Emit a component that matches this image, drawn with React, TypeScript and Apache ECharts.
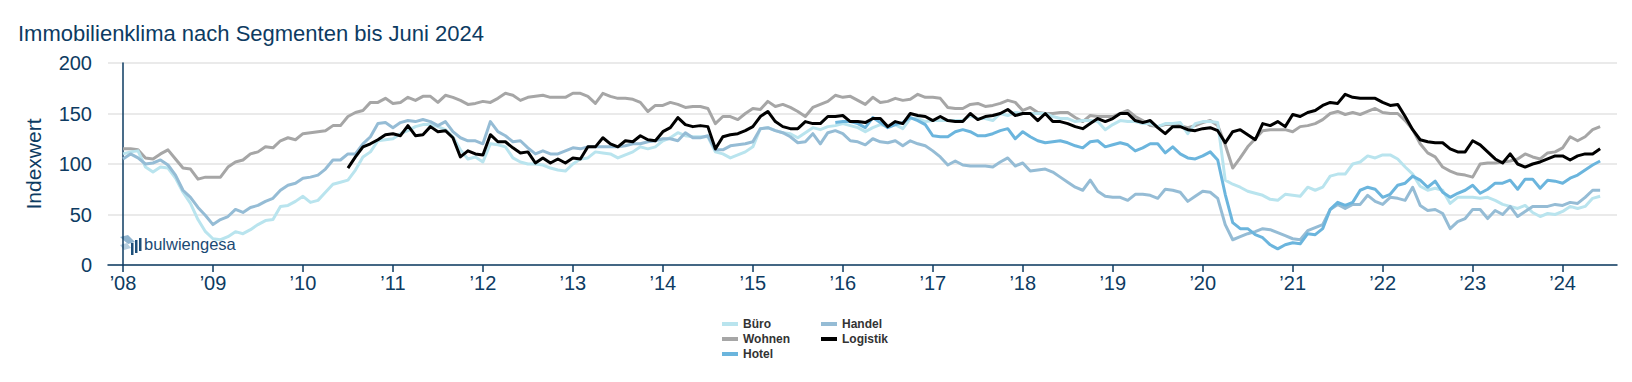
import React, { useEffect, useRef } from "react";
import * as echarts from "echarts";

// Month index 0 = Jan 2008 ... 197 = Jun 2024
const yearLabels = ["08", "09", "10", "11", "12", "13", "14", "15", "16", "17", "18", "19", "20", "21", "22", "23", "24"];
const yearTicks = yearLabels.map((_, i) => i * 12);

const seriesNames = ["Büro", "Wohnen", "Hotel", "Handel", "Logistik"];

const bueroValues = [
  110, 112, 113, 97, 92, 97, 96, 86, 72, 61, 45, 33,
  26, 25, 28, 33, 31, 35, 40, 44, 45, 58, 59, 63,
  68, 62, 64, 72, 80, 82, 84, 94, 107, 112, 123, 124,
  125, 130, 133, 137, 139, 139, 137, 134, 127, 114, 105, 107,
  102, 120, 119, 117, 106, 102, 100, 100, 99, 96, 94, 93,
  100, 105, 106, 112, 111, 110, 106, 109, 112, 117, 115, 117,
  123, 126, 131, 128, 127, 127, 127, 112, 110, 106, 109, 112,
  117, 135, 136, 133, 131, 130, 126, 131, 136, 134, 137, 138,
  140, 138, 136, 132, 136, 139, 137, 139, 135, 145, 145, 142,
  143, 143, 143, 143, 143, 148, 145, 145, 143, 150, 148, 151,
  150, 150, 150, 150, 147, 145, 145, 142, 143, 143, 142, 134,
  139, 143, 142, 142, 140, 140, 137, 140, 140, 141, 130, 140,
  142, 142, 141, 84, 80, 77, 73, 71, 69, 65, 64, 70,
  69, 68, 77, 74, 77, 88, 90, 90, 100, 102, 108, 106,
  109, 109, 105, 97, 90, 78, 74, 76, 74, 61, 67, 67,
  67, 66, 67, 64, 60, 58, 56, 59, 52, 48, 51, 50,
  53, 58, 56, 58, 66, 68,
];

const wohnenValues = [
  115, 115, 114, 106, 105, 110, 114, 105, 96, 95, 85, 87,
  87, 87, 97, 102, 104, 110, 112, 117, 116, 123, 126, 124,
  130, 131, 132, 133, 138, 138, 147, 151, 153, 161, 161, 165,
  160, 161, 166, 163, 167, 167, 161, 168, 166, 163, 159, 160,
  162, 161, 165, 170, 168, 163, 166, 167, 168, 166, 166, 166,
  170, 170, 167, 160, 170, 167, 165, 165, 164, 161, 152, 158,
  158, 161, 159, 156, 157, 157, 155, 140, 147, 147, 144, 150,
  155, 154, 162, 157, 159, 156, 152, 147, 156, 159, 162, 168,
  166, 167, 163, 159, 166, 161, 162, 165, 163, 164, 169, 166,
  166, 165, 156, 155, 155, 159, 160, 157, 158, 160, 163, 161,
  153, 156, 151, 150, 150, 151, 151, 146, 142, 148, 147, 147,
  147, 150, 153, 147, 143, 138, 137, 139, 139, 138, 136, 138,
  141, 143, 138, 119, 96, 106, 117, 125, 133, 134, 134, 134,
  132, 137, 138, 140, 144, 150, 152, 149, 151, 149, 152, 155,
  151, 150, 150, 143, 134, 120, 111, 107, 97, 93, 90, 89,
  87, 100, 101, 101, 102, 103, 105, 110, 107, 105, 111, 112,
  116, 127, 123, 127, 134, 137,
];

const hotelStart = 95;
const hotelValues = [
  141,
  142, 142, 140, 136, 146, 141, 136, 139, 141, 146, 143, 139,
  128, 127, 127, 132, 134, 132, 128, 128, 130, 133, 135, 125,
  132, 127, 123, 121, 122, 123, 121, 118, 116, 122, 123, 117,
  119, 121, 119, 113, 116, 120, 120, 111, 117, 110, 106, 105,
  108, 112, 104, 70, 42, 36, 36, 30, 27, 20, 16, 20,
  22, 21, 31, 30, 36, 55, 62, 59, 62, 74, 77, 75,
  67, 70, 79, 81, 88, 84, 77, 83, 72, 67, 71, 74,
  79, 71, 75, 81, 81, 84, 75, 85, 85, 76, 84, 83,
  81, 86, 89, 94, 99, 103,
];

const handelValues = [
  105, 110, 106, 100, 101, 104, 99, 89, 74, 67, 57, 49,
  40, 45, 48, 55, 52, 57, 59, 63, 66, 74, 79, 81,
  86, 87, 89, 95, 104, 104, 110, 110, 120, 127, 140, 141,
  136, 141, 143, 142, 144, 142, 138, 142, 132, 126, 123, 123,
  120, 142, 132, 128, 122, 123, 116, 110, 113, 110, 110, 113,
  116, 115, 117, 117, 117, 117, 117, 118, 120, 120, 122, 123,
  125, 125, 123, 131, 126, 126, 128, 114, 114, 118, 119, 120,
  122, 135, 136, 133, 131, 127, 121, 122, 130, 120, 131, 133,
  130, 123, 122, 119, 125, 122, 121, 123, 118, 123, 120, 118,
  113, 107, 99, 103, 99, 98, 98, 98, 97, 102, 106, 98,
  101, 93, 94, 95, 92, 87, 82, 77, 74, 84, 73, 68,
  67, 67, 64, 70, 70, 69, 66, 75, 74, 72, 63, 68,
  73, 72, 66, 40, 25, 28, 31, 33, 36, 35, 32, 29,
  26, 25, 34, 37, 40, 55, 60, 56, 60, 60, 69, 63,
  60, 67, 66, 64, 77, 59, 54, 55, 51, 36, 43, 46,
  55, 55, 46, 54, 50, 58, 48, 53, 58, 58, 58, 60,
  59, 62, 61, 67, 74, 74,
];

const logistikStart = 30;
const logistikValues = [
  96, 107, 117, 120, 124, 129,
  130, 128, 138, 128, 129, 137, 132, 133, 126, 107, 113, 110,
  109, 129, 122, 122, 116, 111, 112, 101, 106, 101, 105, 101,
  106, 105, 117, 117, 126, 120, 117, 123, 122, 128, 124, 123,
  132, 136, 146, 139, 137, 138, 137, 115, 127, 129, 130, 133,
  137, 147, 152, 142, 137, 135, 135, 142, 140, 140, 147, 147,
  148, 142, 142, 141, 145, 145, 137, 142, 140, 150, 148, 147,
  143, 147, 143, 142, 142, 150, 144, 147, 148, 150, 154, 148,
  150, 150, 143, 150, 142, 142, 140, 137, 135, 140, 145, 142,
  145, 150, 150, 143, 141, 143, 136, 130, 137, 137, 134, 133,
  135, 136, 133, 121, 132, 134, 129, 124, 140, 138, 142, 137,
  149, 147, 151, 153, 158, 161, 160, 169, 166, 165, 165, 165,
  161, 158, 159, 147, 134, 124, 122, 121, 121, 115, 112, 112,
  123, 119, 112, 105, 101, 110, 100, 97, 100, 102, 105, 108,
  108, 104, 108, 110, 110, 115,
];

const seriesColors = ["#b9e4ee", "#a6a6a6", "#6bb5dd", "#95bcd5", "#000000"];

const FONT = "'Liberation Sans', Arial, Helvetica, sans-serif";
const NAVY = "#0d3b62";

function toPairs(values: number[], start: number) {
  return values.map((v, i) => [start + i, v]);
}

export default function App() {
  const ref = useRef<HTMLDivElement>(null);

  useEffect(() => {
    if (!ref.current) return;
    const chart = echarts.init(ref.current, undefined, { renderer: "svg" });

    const dataSets = [
      toPairs(bueroValues, 0),
      toPairs(wohnenValues, 0),
      toPairs(hotelValues, hotelStart),
      toPairs(handelValues, 0),
      toPairs(logistikValues, logistikStart),
    ];
    const drawOrder = [1, 0, 3, 2, 4];

    const series = drawOrder.map((idx) => ({
      name: seriesNames[idx],
      type: "line",
      data: dataSets[idx],
      showSymbol: false,
      symbol: "none",
      color: seriesColors[idx],
      lineStyle: { width: 3, color: seriesColors[idx], join: "round" },
      itemStyle: { color: seriesColors[idx] },
      emphasis: { disabled: true },
      z: 2 + drawOrder.indexOf(idx),
    }));

    const legendCommon = {
      orient: "vertical",
      icon: "rect",
      itemWidth: 16,
      itemHeight: 4,
      itemGap: 3,
      itemTextGap: 5,
      selectedMode: false,
      textStyle: { fontFamily: FONT, fontSize: 12, fontWeight: "bold", color: "#333333" },
    };

    chart.setOption({
      animation: false,
      backgroundColor: "#ffffff",
      title: {
        text: "Immobilienklima nach Segmenten bis Juni 2024",
        left: 13,
        top: 17,
        textStyle: { fontFamily: FONT, fontSize: 22, fontWeight: "normal", color: NAVY },
      },
      legend: [
        { ...legendCommon, left: 717, top: 313, data: ["Büro", "Wohnen", "Hotel"] },
        { ...legendCommon, left: 816, top: 313, data: ["Handel", "Logistik"] },
      ],
      grid: { left: 108, right: 15, top: 63, bottom: 117, containLabel: false },
      xAxis: {
        type: "value",
        min: -2,
        max: 199.25,
        axisLine: { show: true, lineStyle: { color: NAVY, width: 1.5 } },
        axisTick: { show: true, length: 7, lineStyle: { color: NAVY, width: 1.5 }, customValues: yearTicks },
        axisLabel: {
          customValues: yearTicks,
          formatter: (v: number) => "\u2019" + yearLabels[Math.round(v / 12)],
          fontFamily: FONT,
          fontSize: 20,
          color: NAVY,
          margin: 8,
        },
        splitLine: { show: false },
      },
      yAxis: {
        type: "value",
        min: 0,
        max: 200,
        interval: 50,
        name: "Indexwert",
        nameLocation: "middle",
        nameGap: 64,
        nameTextStyle: { fontFamily: FONT, fontSize: 21, color: NAVY },
        axisLine: { show: true, lineStyle: { color: NAVY, width: 1.5 } },
        axisTick: { show: false },
        axisLabel: { fontFamily: FONT, fontSize: 20, color: NAVY, margin: 16 },
        splitLine: { show: true, lineStyle: { color: "#e3e3e3", width: 1.5 } },
      },
      graphic: [
        {
          type: "group",
          left: 120,
          top: 235,
          children: [
            { type: "polygon", shape: { points: [[0, 2], [8, 0], [15, 7], [8, 9]] }, style: { fill: "#8fb4cf" } },
            { type: "polygon", shape: { points: [[0, 10], [7, 8], [11, 13], [4, 15]] }, style: { fill: "#b7cfe0" } },
            { type: "rect", shape: { x: 11, y: 8, width: 2.5, height: 12 }, style: { fill: "#1d4f7a" } },
            { type: "rect", shape: { x: 15, y: 5, width: 2.5, height: 13 }, style: { fill: "#1d4f7a" } },
            { type: "rect", shape: { x: 19, y: 3, width: 2.5, height: 13 }, style: { fill: "#1d4f7a" } },
          ],
        },
        {
          type: "text",
          left: 144,
          top: 235,
          style: { text: "bulwiengesa", fontFamily: FONT, fontSize: 16.5, fill: "#1b4a74" },
        },
      ],
      series,
    });

    return () => chart.dispose();
  }, []);

  return (
    <div
      ref={ref}
      style={{ position: "absolute", left: 0, top: 0, width: 1632, height: 382, background: "#fff" }}
    />
  );
}
